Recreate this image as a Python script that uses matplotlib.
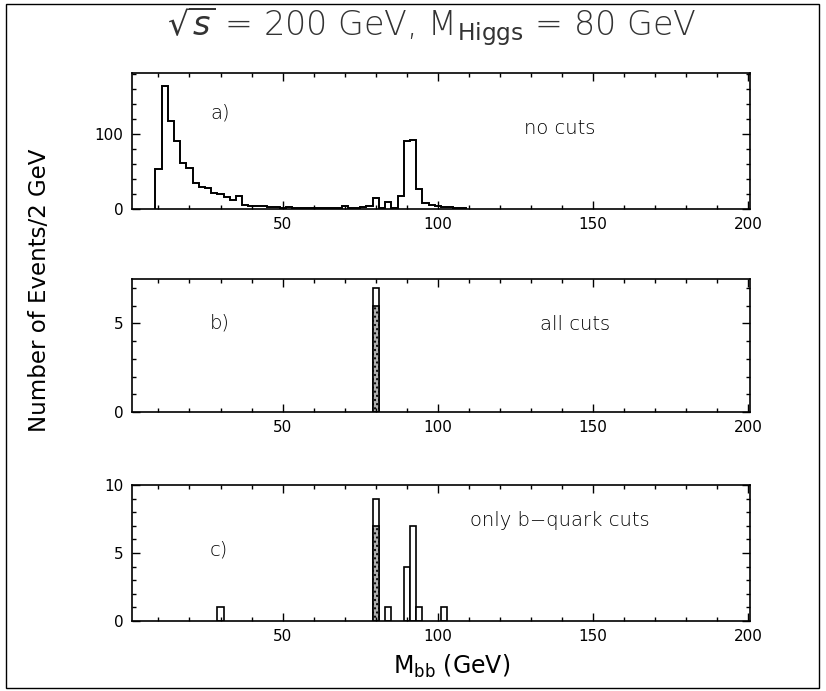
import numpy as np
import matplotlib
matplotlib.use("Agg")
import matplotlib.pyplot as plt
from matplotlib.patches import Rectangle
from matplotlib.ticker import MultipleLocator, FixedLocator

plt.rcParams['font.family'] = ['DejaVu Sans']
plt.rcParams['mathtext.fontset'] = 'dejavusans'

# ---------------- data (2 GeV bins, lower edges) ----------------
bins_a_lo = [9, 11, 13, 15, 17, 19, 21, 23, 25, 27, 29, 31, 33, 35, 37, 39, 41, 43, 45, 47,
             49, 51, 53, 55, 57, 59, 61, 63, 65, 67, 69, 71, 73, 75, 77, 79, 81, 83, 85, 87,
             89, 91, 93, 95, 97, 99, 101, 103, 105, 107]
counts_a = [53, 165, 118, 91, 61, 55, 35, 30, 28, 21, 20, 16, 12, 18, 5, 4, 4, 4, 3, 3,
            2, 3, 1, 1, 2, 1, 2, 1, 1, 2, 4, 1, 2, 3, 4, 15, 2, 10, 2, 18,
            91, 92, 27, 8, 6, 4, 3, 3, 2, 1]

bins_b_lo = [79]
counts_b_all = [7]
counts_b_sig = [6]

bins_c_lo = [29, 79, 83, 89, 91, 93, 101]
counts_c_all = [1, 9, 1, 4, 7, 1, 1]
bins_c_sig_lo = [79]
counts_c_sig = [7]

bin_width = 2
xticks_major = [50, 100, 150, 200]
panel_labels = ["a)", "b)", "c)"]
panel_notes = ["no cuts", "all cuts", "only b\u2212quark cuts"]

# ---------------- figure ----------------
W, H = 826, 691
fig = plt.figure(figsize=(W / 100, H / 100), dpi=100)

def fax(left, top, right, bottom):
    return fig.add_axes([left / W, 1 - bottom / H, (right - left) / W, (bottom - top) / H])

ax_a = fax(132, 73, 750, 209)
ax_b = fax(132, 279, 750, 412)
ax_c = fax(132, 485, 750, 621)

def style(ax, ymax, ymajor, yminor):
    ax.set_xlim(1.5, 200.5)
    ax.set_ylim(0, ymax)
    ax.xaxis.set_major_locator(FixedLocator(xticks_major))
    ax.xaxis.set_minor_locator(MultipleLocator(10))
    ax.yaxis.set_major_locator(FixedLocator(ymajor))
    ax.yaxis.set_minor_locator(MultipleLocator(yminor))
    ax.tick_params(which='both', direction='in', top=True, right=True, width=1.0,
                   labelsize=11, colors='black')
    ax.tick_params(which='major', length=6)
    ax.tick_params(which='minor', length=3)
    ax.tick_params(axis='x', pad=6)
    ax.tick_params(axis='y', pad=6)
    for s in ax.spines.values():
        s.set_linewidth(1.2)

# panel a
edges_a = list(bins_a_lo) + [bins_a_lo[-1] + bin_width]
ax_a.stairs(counts_a, edges_a, color='black', linewidth=1.4)
style(ax_a, 182, [0, 100], 20)

# panel b
ax_b.bar(bins_b_lo, counts_b_all, width=bin_width, align='edge', facecolor='white',
         edgecolor='black', linewidth=1.2)
ax_b.bar(bins_b_lo, counts_b_sig, width=bin_width, align='edge', facecolor='#b0b0b0',
         edgecolor='black', linewidth=1.2, hatch='....')
style(ax_b, 7.5, [0, 5], 1)

# panel c
ax_c.bar(bins_c_lo, counts_c_all, width=bin_width, align='edge', facecolor='white',
         edgecolor='black', linewidth=1.2)
ax_c.bar(bins_c_sig_lo, counts_c_sig, width=bin_width, align='edge', facecolor='#b0b0b0',
         edgecolor='black', linewidth=1.2, hatch='....')
style(ax_c, 10, [0, 5, 10], 1)

# panel annotations (pixel positions -> figure fraction)
def ftext(x, y, s, **kw):
    fig.text(x / W, 1 - y / H, s, **kw)

ftext(210, 113, panel_labels[0], fontsize=14, va='center', ha='left', fontweight='light')
ftext(524, 128, panel_notes[0], fontsize=14, va='center', ha='left', fontweight='light')
ftext(210, 323, panel_labels[1], fontsize=14, va='center', ha='left', fontweight='light')
ftext(540, 325, panel_notes[1], fontsize=14, va='center', ha='left', fontweight='light')
ftext(210, 550, panel_labels[2], fontsize=14, va='center', ha='left', fontweight='light')
ftext(470, 520, panel_notes[2], fontsize=14, va='center', ha='left', fontweight='light')

# title
ftext(432, 26, r"$\sqrt{s}$ = 200 GeV, M$_{\rm Higgs}$ = 80 GeV", fontsize=24,
      ha='center', va='center', color='#333333', fontweight='light')

# axis labels
ftext(40, 290, "Number of Events/2 GeV", fontsize=16.5, rotation=90, ha='center', va='center')
ftext(452, 666, r"M$_{\rm bb}$ (GeV)", fontsize=17, ha='center', va='center')

# outer frame
fig.patches.append(Rectangle((6 / W, 1 - 688 / H), (819 - 6) / W, (688 - 4) / H,
                             transform=fig.transFigure, fill=False, edgecolor='black',
                             linewidth=1.0))

fig.savefig("out.png", dpi=100)
